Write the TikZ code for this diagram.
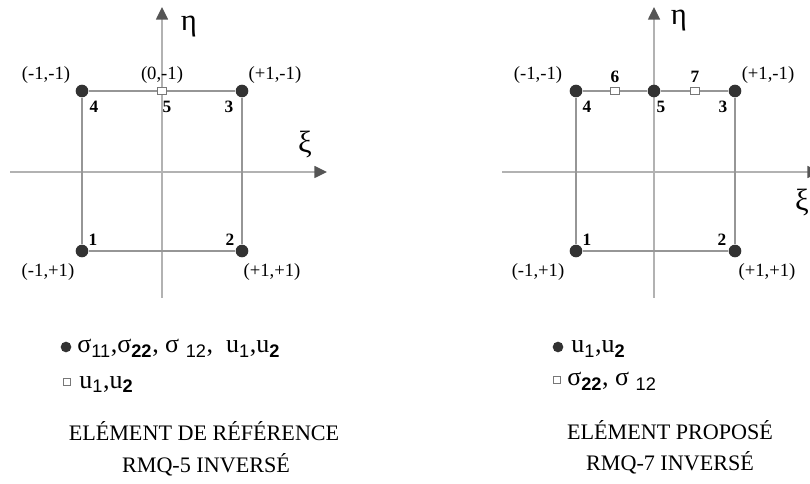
\documentclass[tikz,border=0pt]{standalone}
\usepackage{fontspec}
\setmainfont{Liberation Serif}
\newfontfamily\lsans{Liberation Sans}
\usetikzlibrary{arrows.meta}
\definecolor{axisgray}{RGB}{178,178,178}
\definecolor{edgegray}{RGB}{150,150,150}
\definecolor{dotgray}{RGB}{50,50,50}
\definecolor{tipgray}{RGB}{85,85,85}
\definecolor{markgray}{RGB}{120,120,120}
\newcommand\mysb[1]{\textsubscript{\lsans #1}}
\begin{document}
\begin{tikzpicture}[x=0.75pt,y=-0.75pt,
  axis/.style={draw=axisgray,line width=1.1pt,-{Triangle[length=9.5pt,width=9pt,color=tipgray]}},
  edge/.style={draw=edgegray,line width=0.8pt},
  dotnode/.style={circle,fill=dotgray,inner sep=0pt,minimum size=9.5pt},
  sqmark/.style={rectangle,draw=markgray,fill=white,line width=0.5pt,inner sep=0pt,minimum width=6.5pt,minimum height=5.2pt},
  ldotnode/.style={circle,fill=dotgray,inner sep=0pt,minimum size=8pt},
  lsqmark/.style={rectangle,draw=markgray,fill=white,line width=0.5pt,inner sep=0pt,minimum size=5.5pt},
  coordlbl/.style={font=\fontsize{14}{16}\selectfont,inner sep=0pt},
  numlbl/.style={font=\fontsize{13}{15}\selectfont\bfseries,inner sep=0pt},
  greek/.style={font=\fontsize{23}{26}\selectfont,inner sep=0pt},
  legendtxt/.style={font=\fontsize{19.5}{22}\selectfont,inner sep=0pt,anchor=base west},
  titletxt/.style={font=\fontsize{16.6}{20}\selectfont,inner sep=0pt,anchor=base}
]
\useasboundingbox (0,0) rectangle (810,484);
% ---------- left panel ----------
\coordinate (Lxs) at (10,172);
\coordinate (Lxe) at (327,172);
\coordinate (Lys) at (162,298);
\coordinate (Lye) at (162,7);
\draw[axis] (Lxs) -- (Lxe);
\draw[axis] (Lys) -- (Lye);
\node[dotnode] (L1) at (82,251) {};
\node[dotnode] (L2) at (242,251) {};
\node[dotnode] (L3) at (242,91) {};
\node[dotnode] (L4) at (82,91) {};
\node[sqmark] (L5) at (162,91) {};
\draw[edge] (L4) -- (L5) -- (L3) -- (L2) -- (L1) -- (L4);
\node[coordlbl] (Lc4) at (46,75) {(-1,-1)};
\node[coordlbl] (Lc5) at (162,75) {(0,-1)};
\node[coordlbl] (Lc3) at (275,75) {(+1,-1)};
\node[coordlbl] (Lc1) at (48,272) {(-1,+1)};
\node[coordlbl] (Lc2) at (272,272) {(+1,+1)};
\node[numlbl] (Ln4) at (94,107) {4};
\node[numlbl] (Ln5) at (167,107) {5};
\node[numlbl] (Ln3) at (229,107) {3};
\node[numlbl] (Ln1) at (93,240) {1};
\node[numlbl] (Ln2) at (230,240) {2};
\node[greek] (Leta) at (189,27) {η};
\node[greek] (Lxi) at (305,145) {ξ};
\node[ldotnode] (Llb1) at (66,347) {};
\node[legendtxt] (Llt1) at (77,353) {σ\mysb{11},σ\mysb{\bfseries 22}, σ \mysb{12},\ \ u\mysb{1},u\mysb{\bfseries 2}};
\node[lsqmark] (Llb2) at (67,382) {};
\node[legendtxt] (Llt2) at (79,388) {u\mysb{1},u\mysb{\bfseries 2}};
\node[titletxt] (Lt1) at (204,440) {ELÉMENT DE RÉFÉRENCE};
\node[titletxt] (Lt2) at (206,472) {RMQ-5 INVERSÉ};
% ---------- right panel ----------
\coordinate (Rxs) at (502,172);
\coordinate (Rxe) at (820,172);
\coordinate (Rys) at (654,298);
\coordinate (Rye) at (654,7);
\draw[axis] (Rxs) -- (Rxe);
\draw[axis] (Rys) -- (Rye);
\node[dotnode] (R1) at (576,251) {};
\node[dotnode] (R2) at (735,251) {};
\node[dotnode] (R3) at (735,91) {};
\node[dotnode] (R4) at (576,91) {};
\node[dotnode] (R5) at (654,91) {};
\node[sqmark] (R6) at (615,91) {};
\node[sqmark] (R7) at (695,91) {};
\draw[edge] (R4) -- (R6) -- (R5) -- (R7) -- (R3) -- (R2) -- (R1) -- (R4);
\node[coordlbl] (Rc4) at (538,75) {(-1,-1)};
\node[coordlbl] (Rc3) at (768,75) {(+1,-1)};
\node[coordlbl] (Rc1) at (538,272) {(-1,+1)};
\node[coordlbl] (Rc2) at (767,272) {(+1,+1)};
\node[numlbl] (Rn6) at (615,77) {6};
\node[numlbl] (Rn7) at (695,77) {7};
\node[numlbl] (Rn4) at (587,107) {4};
\node[numlbl] (Rn5) at (661,107) {5};
\node[numlbl] (Rn3) at (723,107) {3};
\node[numlbl] (Rn1) at (587,240) {1};
\node[numlbl] (Rn2) at (722,240) {2};
\node[greek] (Reta) at (679,21) {η};
\node[greek] (Rxi) at (802,202) {ξ};
\node[ldotnode] (Rlb1) at (558,347) {};
\node[legendtxt] (Rlt1) at (571,353) {u\mysb{1},u\mysb{\bfseries 2}};
\node[lsqmark] (Rlb2) at (557,380) {};
\node[legendtxt] (Rlt2) at (567,386) {σ\mysb{\bfseries 22}, σ \mysb{12}};
\node[titletxt] (Rt1) at (670,439) {ELÉMENT PROPOSÉ};
\node[titletxt] (Rt2) at (670,470) {RMQ-7 INVERSÉ};
\end{tikzpicture}
\end{document}
